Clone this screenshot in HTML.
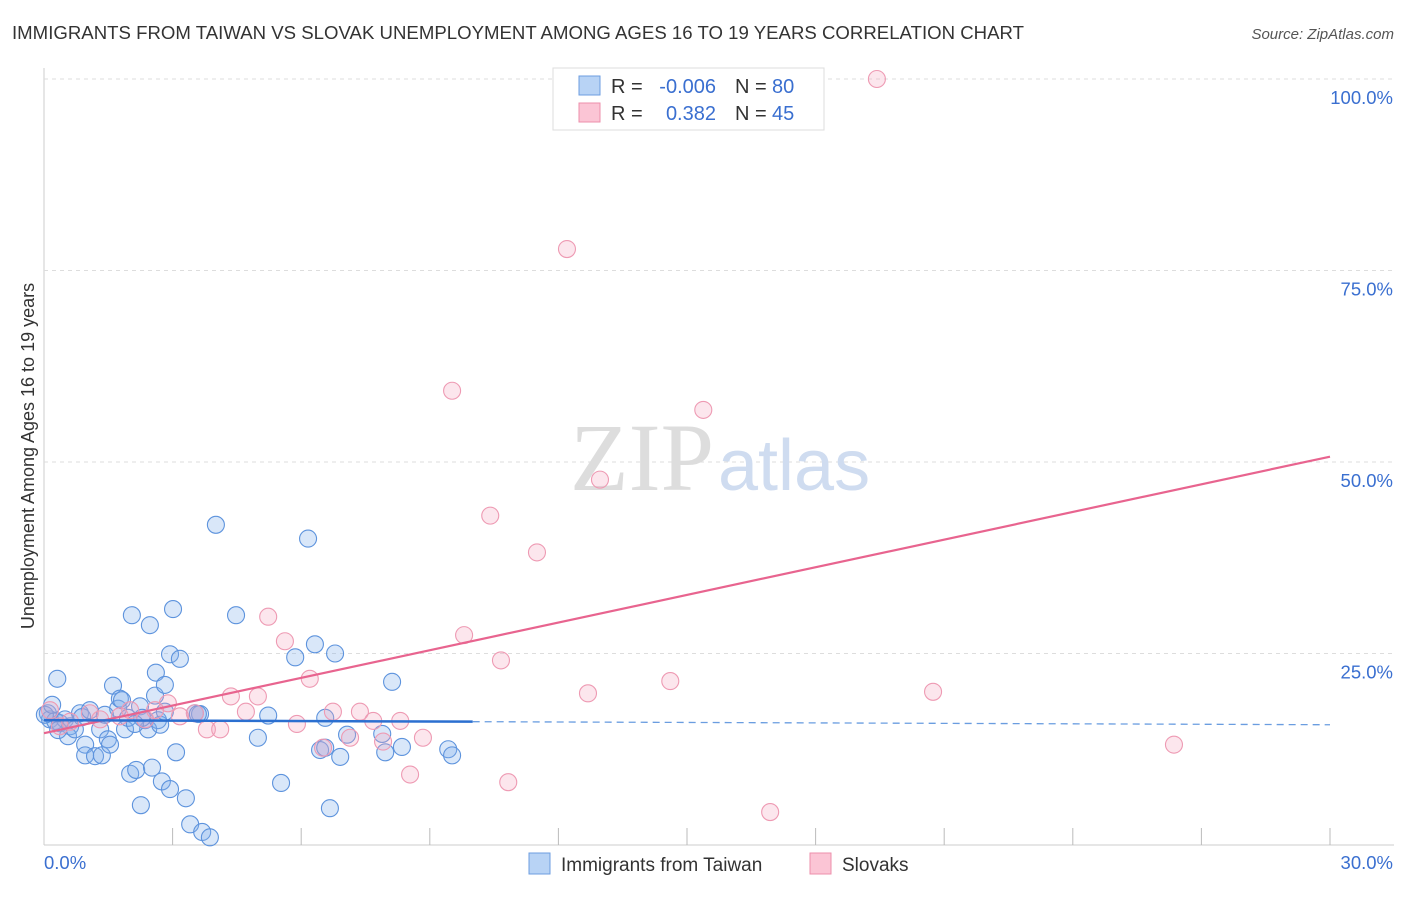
<!DOCTYPE html>
<html><head><meta charset="utf-8"><style>
body{margin:0;background:#fff;font-family:"Liberation Sans",sans-serif;}
svg text{font-family:"Liberation Sans",sans-serif;}
</style></head><body>
<svg id="chart" width="1406" height="892">
<text x="12" y="39" font-size="18.6" fill="#333" textLength="1012">IMMIGRANTS FROM TAIWAN VS SLOVAK UNEMPLOYMENT AMONG AGES 16 TO 19 YEARS CORRELATION CHART</text>
<text x="1394" y="39" font-size="15" fill="#555" font-style="italic" text-anchor="end">Source: ZipAtlas.com</text>
<text transform="translate(34,456) rotate(-90)" font-size="18" fill="#333" text-anchor="middle">Unemployment Among Ages 16 to 19 years</text>
<g id="grid"></g>
<text x="714" y="490" font-size="96" fill="#ddd" text-anchor="end" style="font-family:'Liberation Serif',serif">ZIP</text>
<text x="718" y="490" font-size="72" fill="#cfdcf0">atlas</text>
<g id="marks"></g>
<g>
<rect x="553" y="68" width="271" height="62" fill="#fff" stroke="#ddd"/>
<rect x="579" y="76" width="21" height="19" fill="#b8d3f5" stroke="#6c9ee0"/>
<rect x="579" y="103" width="21" height="19" fill="#fbc5d5" stroke="#ec8fab"/>
<text x="611" y="93" font-size="20" fill="#333">R = </text><text x="716" y="93" font-size="20" fill="#3a6fd0" text-anchor="end">-0.006</text>
<text x="735" y="93" font-size="20" fill="#333">N = </text><text x="772" y="93" font-size="20" fill="#3a6fd0">80</text>
<text x="611" y="120" font-size="20" fill="#333">R = </text><text x="716" y="120" font-size="20" fill="#3a6fd0" text-anchor="end">0.382</text>
<text x="735" y="120" font-size="20" fill="#333">N = </text><text x="772" y="120" font-size="20" fill="#3a6fd0">45</text>
</g>
<g>
<rect x="529" y="853" width="21" height="21" fill="#b8d3f5" stroke="#6c9ee0"/>
<text x="561" y="871" font-size="19" fill="#333">Immigrants from Taiwan</text>
<rect x="810" y="853" width="21" height="21" fill="#fbc5d5" stroke="#ec8fab"/>
<text x="842" y="871" font-size="19" fill="#333">Slovaks</text>
</g>
</svg>
<script>
const xTicksPct=[0,3,6,9,12,15,18,21,24,27,30];
const yTicksPct=[25,50,75,100];
const yTickLabels=["25.0%","50.0%","75.0%","100.0%"];
const blueX=[0.31,0.09,0.14,0.26,0.37,0.49,0.61,0.56,0.72,0.84,0.89,0.96,0.96,1.19,1.35,1.31,1.49,1.54,1.61,1.73,1.77,1.82,1.89,2.01,2.05,2.15,2.24,2.26,2.36,2.43,2.47,2.52,2.59,2.61,2.66,2.71,2.75,2.82,2.94,2.94,3.01,3.08,3.17,3.31,3.41,3.52,3.64,3.69,3.87,4.01,4.48,4.99,5.23,5.53,5.86,6.16,6.32,6.56,6.67,6.79,6.91,7.07,6.44,6.56,7.89,7.96,8.12,8.35,9.43,9.52,0.02,0.19,0.33,1.07,1.42,1.96,2.29,2.82,3.59,2.12];
const blueY=[21.7,17.2,16.4,16.2,15.9,16.4,15.5,14.2,15.1,17.2,16.7,13.1,11.7,11.6,11.7,15.1,13.8,13.1,20.8,17.8,19.1,18.9,15.1,9.3,30.0,9.8,18.1,5.2,16.3,15.1,28.7,10.1,19.5,22.5,16.3,15.7,8.3,20.9,24.9,7.3,30.8,12.1,24.3,6.1,2.7,17.2,17.1,1.7,1.0,41.8,30.0,14.0,16.9,8.1,24.5,40.0,26.2,16.6,4.8,25.0,11.5,14.4,12.4,12.7,14.5,12.1,21.3,12.8,12.5,11.7,17.0,18.3,15.0,17.6,17.0,16.6,16.6,17.4,17.1,15.8];
const pinkX=[19.43,12.2,9.52,15.38,12.97,10.41,11.5,5.23,5.62,9.8,6.2,10.66,12.69,14.61,20.74,4.36,4.99,2.89,3.52,4.71,7.37,6.74,5.9,7.68,8.31,7.14,7.91,6.51,8.84,8.54,10.83,16.94,26.36,0.14,1.07,1.31,1.77,2.36,3.17,3.8,4.11,2.01,0.37,0.61,2.59];
const pinkY=[100,77.8,59.3,56.8,47.7,43.0,38.2,29.8,26.6,27.4,21.7,24.1,19.8,21.4,20.0,19.4,19.4,18.5,17.2,17.4,17.4,17.4,15.8,16.2,16.2,14.0,13.5,12.7,14.0,9.2,8.2,4.3,13.1,17.6,17.2,16.4,16.8,16.4,16.8,15.1,15.1,17.6,15.5,16.1,17.6];
const pinkTrend=[14.6,50.7];
const blueTrend=[16.3,15.7];
const X=p=>44+p/30*1286, Y=v=>845-v/100*766;
const ns="http://www.w3.org/2000/svg";
function mk(parent,tag,attrs){const e=document.createElementNS(ns,tag);for(const k in attrs)e.setAttribute(k,attrs[k]);document.getElementById(parent).appendChild(e);return e;}
let e;
e=mk('grid','line',{x1:44,y1:68,x2:44,y2:845,stroke:'#ccc'});


e=mk('grid','line',{x1:44,y1:845,x2:1394,y2:845,stroke:'#ccc'});


yTicksPct.forEach((v,i)=>{
 e=mk('grid','line',{x1:44,y1:Y(v),x2:1394,y2:Y(v),stroke:'#ddd','stroke-dasharray':'4,4'});
 
 
 e=mk('grid','text',{x:1393,y:Y(v)+25,'font-size':18.5,fill:'#3a6fd0','text-anchor':'end'});
 e.textContent=yTickLabels[i];
 
 
});
xTicksPct.forEach(v=>{
 if(v===0)return;
 e=mk('grid','line',{x1:X(v),y1:828,x2:X(v),y2:845,stroke:'#bbb'});
 
 
});
e=mk('grid','text',{x:44,y:869,'font-size':18.5,fill:'#3a6fd0'});e.textContent='0.0%';


e=mk('grid','text',{x:1393,y:869,'font-size':18.5,fill:'#3a6fd0','text-anchor':'end'});e.textContent='30.0%';


blueX.forEach((x,i)=>{
 e=mk('marks','circle',{cx:X(x),cy:Y(blueY[i]),r:8.5,fill:'rgba(130,175,235,0.3)',stroke:'#5d93dd','stroke-width':1.1});
 
 
});
pinkX.forEach((x,i)=>{
 e=mk('marks','circle',{cx:X(x),cy:Y(pinkY[i]),r:8.5,fill:'rgba(245,165,190,0.28)',stroke:'#ee9ab3','stroke-width':1.1});
 
 
});
e=mk('marks','line',{x1:X(0),y1:Y(pinkTrend[0]),x2:X(30),y2:Y(pinkTrend[1]),stroke:'#e8648f','stroke-width':2.2});


const bAt=p=>blueTrend[0]+(blueTrend[1]-blueTrend[0])*p/30;
e=mk('marks','line',{x1:X(0),y1:Y(bAt(0)),x2:X(10),y2:Y(bAt(10)),stroke:'#2b6fd0','stroke-width':2.5});


e=mk('marks','line',{x1:X(10),y1:Y(bAt(10)),x2:X(30),y2:Y(bAt(30)),stroke:'#6a9de0','stroke-width':1.3,'stroke-dasharray':'7,5'});


</script>
</body></html>
